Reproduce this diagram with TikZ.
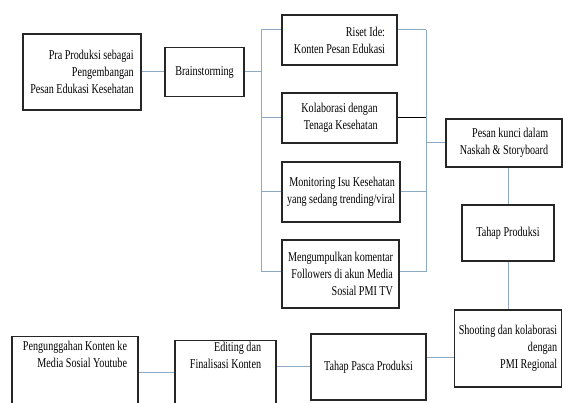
\documentclass[tikz,border=0pt]{standalone}
\usepackage{fontspec}
\setmainfont[FakeStretch=0.75]{Liberation Serif}

\begin{document}
\begin{tikzpicture}[x=1pt,y=-1pt,
					line join=miter,
					box/.style={draw=black!85,line width=1.2pt,rectangle,align=right,
					            inner xsep=4pt,inner ysep=2pt,
					            font=\fontsize{13.5}{17}\selectfont},
					link/.style={draw={rgb,255:red,140;green,170;blue,198},line width=1pt},
					blacklink/.style={draw=black,line width=1pt}]

  \fill[white] (0,0) rectangle (563,403);
  \useasboundingbox (0,0) rectangle (563,403);

  \node[box,minimum width=118,minimum height=76] (pra) at (82,72)
    {Pra Produksi sebagai\\Pengembangan\\Pesan Edukasi Kesehatan};
  \node[box,align=center,minimum width=79,minimum height=49] (brain) at (204.5,72)
    {Brainstorming};

  \node[box,minimum width=115,minimum height=50] (riset) at (339.5,40)
    {Riset Ide:\\Konten Pesan Edukasi};
  \node[box,minimum width=115,minimum height=50] (kolab) at (339.5,118)
    {Kolaborasi dengan\\Tenaga Kesehatan};
  \node[box,minimum width=118,minimum height=60] (monitor) at (341,192)
    {Monitoring Isu Kesehatan\\yang sedang trending/viral};
  \node[box,minimum width=117,minimum height=68] (kumpul) at (340.5,274)
    {Mengumpulkan komentar\\Followers di akun Media\\Sosial PMI TV};

  \node[box,minimum width=116,minimum height=48] (pesan) at (504,143)
    {Pesan kunci dalam\\Naskah \& Storyboard};
  \node[box,align=center,minimum width=92,minimum height=56] (produksi) at (508,233)
    {Tahap Produksi};
  \node[box,minimum width=106,minimum height=77] (shooting) at (508,348.5)
    {Shooting dan kolaborasi\\dengan\\PMI Regional};

  \node[box,align=center,minimum width=115,minimum height=66] (pasca) at (368.5,367)
    {Tahap Pasca Produksi};
  \node[box,anchor=north,minimum width=101,inner ysep=2pt,text depth=60pt] (editing) at (225.5,340)
    {Editing dan\\Finalisasi Konten};
  \node[box,anchor=north,minimum width=126,inner ysep=5pt,text depth=60pt] (upload) at (75,336)
    {Pengunggahan Konten ke\\Media Sosial Youtube};

  % kurung kiri dan kanan
  \coordinate (lt) at (261,30);
  \coordinate (lb) at (261,272);
  \coordinate (rt) at (426,30);
  \coordinate (rb) at (426,272);
  \coordinate (sp) at (440,358);
  \coordinate (ep) at (150,373);

  \draw[link] (pra) -- (brain);
  \draw[link] (brain.east) -- (brain.east -| lt);
  \draw[link] (lt) -- (lb);
  \draw[link] (lt) -- (lt -| riset.west);
  \draw[link] (lt |- kolab.west) -- (kolab.west);
  \draw[link] (lt |- monitor.west) -- (monitor.west);
  \draw[link] (lb) -- (lb -| kumpul.west);

  \draw[link] (rt) -- (rb);
  \draw[link] (rt -| riset.east) -- (rt);
  \draw[blacklink] (kolab.east) -- (kolab.east -| rt);
  \draw[link] (monitor.east) -- (monitor.east -| rt);
  \draw[link] (rb -| kumpul.east) -- (rb);
  \draw[link] (rt |- pesan.west) -- (pesan.west);

  \draw[link] (produksi.north |- pesan.south) -- (produksi.north);
  \draw[link] (produksi) -- (shooting);
  \draw[link] (sp -| shooting.west) -- (sp -| pasca.east);
  \draw[link] (pasca.west) -- (pasca.west -| editing.east);
  \draw[link] (ep -| editing.west) -- (ep -| upload.east);
\end{tikzpicture}
\end{document}
